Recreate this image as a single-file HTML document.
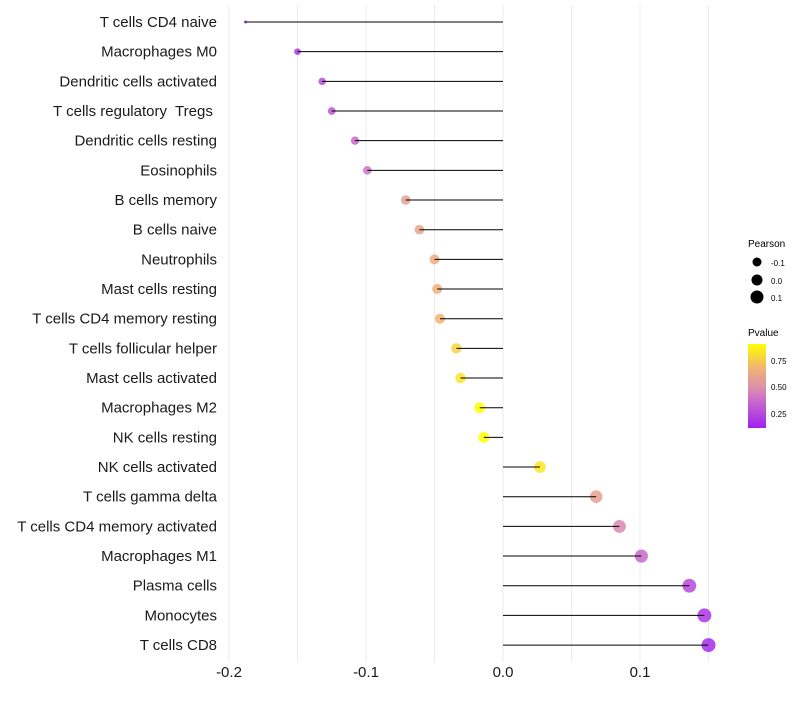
<!DOCTYPE html>
<html><head><meta charset="utf-8"><style>
body{margin:0;background:#fff;font-family:"Liberation Sans",sans-serif}
text{white-space:pre}
</style></head><body>
<svg id="chart" width="800" height="700" xmlns="http://www.w3.org/2000/svg" font-family="Liberation Sans, sans-serif">
<defs><linearGradient id="pg" x1="0" y1="1" x2="0" y2="0">
<stop offset="0" stop-color="#a020f0"/><stop offset="0.35" stop-color="#cc70c8"/><stop offset="0.5" stop-color="#dc94a8"/><stop offset="0.7" stop-color="#f0b078"/><stop offset="1" stop-color="#ffff00"/>
</linearGradient></defs>
<g id="grid"></g><g id="marks"></g><g id="labels"></g>
<g>
<text x="748" y="247" font-size="10">Pearson</text>
<circle cx="757" cy="262" r="4.5" fill="#000"/><text x="771" y="266" font-size="8">-0.1</text>
<circle cx="757" cy="280" r="5.5" fill="#000"/><text x="771" y="284" font-size="8">0.0</text>
<circle cx="757" cy="297" r="6.5" fill="#000"/><text x="771" y="301" font-size="8">0.1</text>
<text x="748" y="336" font-size="10">Pvalue</text>
<rect x="748" y="344" width="18" height="84" fill="url(#pg)"/>
<text x="771" y="364" font-size="8">0.75</text><text x="771" y="390" font-size="8">0.50</text><text x="771" y="417" font-size="8">0.25</text>
</g>
</svg>
<script>
const categories=["T cells CD4 naive","Macrophages M0","Dendritic cells activated","T cells regulatory  Tregs ","Dendritic cells resting","Eosinophils","B cells memory","B cells naive","Neutrophils","Mast cells resting","T cells CD4 memory resting","T cells follicular helper","Mast cells activated","Macrophages M2","NK cells resting","NK cells activated","T cells gamma delta","T cells CD4 memory activated","Macrophages M1","Plasma cells","Monocytes","T cells CD8"];
const pearson=[-0.188,-0.150,-0.132,-0.125,-0.108,-0.099,-0.071,-0.061,-0.050,-0.048,-0.046,-0.034,-0.031,-0.017,-0.014,0.027,0.068,0.085,0.101,0.136,0.147,0.150];
const pvalue=[0.10,0.18,0.24,0.27,0.32,0.36,0.60,0.65,0.72,0.74,0.76,0.84,0.88,0.96,0.97,0.89,0.62,0.46,0.33,0.22,0.17,0.14];
const xTicks=[-0.2,-0.1,0.0,0.1];
const xTickLabels=["-0.2","-0.1","0.0","0.1"];
const gridVals=[-0.2,-0.15,-0.1,-0.05,0,0.05,0.1,0.15];
const NS="http://www.w3.org/2000/svg";
const x=v=>503+v*1370;
const y=i=>22+i*29.67;
function col(p){const stops=[[0.1,[160,32,240]],[0.35,[204,112,200]],[0.5,[220,148,168]],[0.75,[240,176,120]],[0.95,[255,255,0]]];
 if(p<=stops[0][0])return`rgb(${stops[0][1]})`;for(let k=1;k<stops.length;k++){if(p<=stops[k][0]){const a=stops[k-1],b=stops[k],t=(p-a[0])/(b[0]-a[0]);return`rgb(${a[1].map((c,j)=>Math.round(c+(b[1][j]-c)*t)).join(",")})`;}}return"rgb(255,255,0)";}
const mn=Math.min(...pearson),mx=Math.max(...pearson);
const rad=v=>1.5+5.5*Math.sqrt((v-mn)/(mx-mn));
function el(t,a,p){const e=document.createElementNS(NS,t);for(const k in a)e.setAttribute(k,a[k]);p.appendChild(e);return e;}
const grid=document.getElementById("grid"),marks=document.getElementById("marks"),labels=document.getElementById("labels");
gridVals.forEach(v=>{const l=el("line",{x1:x(v),x2:x(v),y1:5,y2:662,stroke:"#ebebeb","stroke-width":1},grid);

});
xTicks.forEach((v,i)=>{const t=el("text",{x:x(v),y:677,"font-size":15,"text-anchor":"middle",fill:"#1a1a1a"},labels);t.textContent=xTickLabels[i];

});
categories.forEach((c,i)=>{
 const t=el("text",{x:217,y:y(i)+5,"font-size":15,"text-anchor":"end",fill:"#1a1a1a"},labels);t.textContent=c;
 
 
 const ci=el("circle",{cx:x(pearson[i]),cy:y(i),r:rad(pearson[i]),fill:col(pvalue[i]),"fill-opacity":0.85},marks);
 
 
 const ln=el("line",{x1:x(0),x2:x(pearson[i]),y1:y(i),y2:y(i),stroke:"#000","stroke-width":1},marks);
 
 
});
</script>
</body></html>
